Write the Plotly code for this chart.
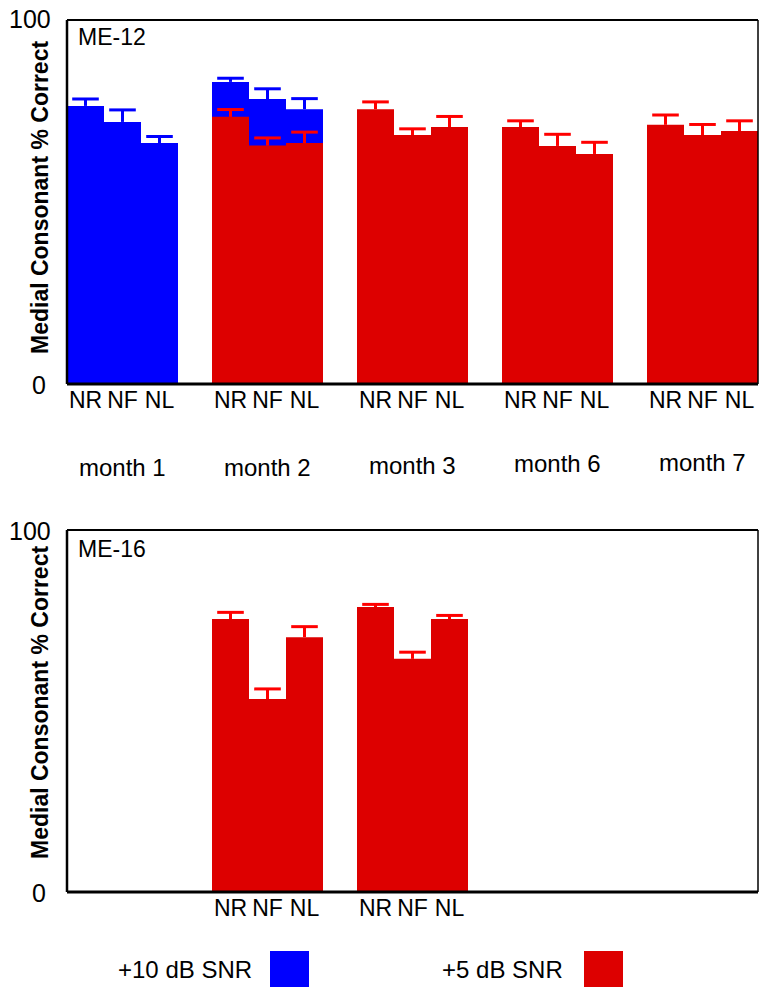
import plotly.graph_objects as go

# ---------------- data ----------------
months = ["month 1", "month 2", "month 3", "month 6", "month 7"]
conditions = ["NR", "NF", "NL"]

# ME-12, +10 dB SNR (months 1 and 2)
me12_snr10_months = [0, 1]
me12_snr10 = [[76.4, 72.0, 66.2], [83.0, 78.3, 75.5]]
me12_snr10_err = [[1.9, 3.3, 1.8], [1.0, 2.8, 2.9]]

# ME-12, +5 dB SNR (months 2, 3, 6, 7)
me12_snr5_months = [1, 2, 3, 4]
me12_snr5 = [[73.4, 65.5, 66.2], [75.5, 68.4, 70.6], [70.6, 65.4, 63.2], [71.2, 68.4, 69.5]]
me12_snr5_err = [[2.0, 2.1, 3.0], [2.0, 1.7, 2.9], [1.7, 3.2, 3.2], [2.7, 2.9, 2.8]]

# ME-16, +5 dB SNR (months 2, 3)
me16_snr5_months = [1, 2]
me16_snr5 = [[75.4, 53.3, 70.4], [78.7, 64.4, 75.4]]
me16_snr5_err = [[1.85, 2.8, 2.9], [0.75, 1.85, 1.0]]

# ---------------- layout helpers ----------------
W, H = 759, 987
GAP = 34 / 37.0
PERIOD = 3 + GAP
XMAX = 5 * 3 + 4 * GAP

def px(x):
    return x / W

def py(y):
    return 1 - y / H

def centers(month_idx):
    return [month_idx * PERIOD + k + 0.5 for k in range(3)]

def flat(month_list, values):
    xs, ys = [], []
    for m, vals in zip(month_list, values):
        xs += centers(m)
        ys += list(vals)
    return xs, ys

BLUE = "#0000FF"
RED_BAR = "#DD0000"
RED_ERR = "#FF0000"
FONT = "Liberation Sans, Arial, sans-serif"

fig = go.Figure()

def add_bars(month_list, values, errs, color, ecolor, xa, ya):
    xs, ys = flat(month_list, values)
    _, es = flat(month_list, errs)
    # bars with upper error stems (no crossbars)
    fig.add_trace(go.Bar(
        x=xs, y=ys, width=1.0, marker=dict(color=color, line=dict(width=0)),
        error_y=dict(type="data", array=es, arrayminus=[0] * len(es), symmetric=False,
                     color=ecolor, thickness=3, width=0),
        xaxis=xa, yaxis=ya, showlegend=False, hoverinfo="skip"))
    # caps at the top of each error bar
    fig.add_trace(go.Scatter(
        x=xs, y=[v + e for v, e in zip(ys, es)], mode="markers",
        marker=dict(symbol="line-ew", size=19, line=dict(color=ecolor, width=3)),
        xaxis=xa, yaxis=ya, showlegend=False, hoverinfo="skip"))

add_bars(me12_snr10_months, me12_snr10, me12_snr10_err, BLUE, BLUE, "x", "y")
add_bars(me12_snr5_months, me12_snr5, me12_snr5_err, RED_BAR, RED_ERR, "x", "y")
add_bars(me16_snr5_months, me16_snr5, me16_snr5_err, RED_BAR, RED_ERR, "x2", "y2")

top_ticks = []
for m in range(5):
    top_ticks += centers(m)
bot_ticks = []
for m in me16_snr5_months:
    bot_ticks += centers(m)

xdom = [px(67), px(758)]
top_dom = [py(384), py(20)]
bot_dom = [py(892), py(530)]

axis_common = dict(showgrid=False, zeroline=False, showline=False, ticks="",
                   tickfont=dict(family=FONT, size=23, color="black"))

fig.update_layout(
    width=W, height=H, margin=dict(l=0, r=0, t=0, b=0),
    paper_bgcolor="white", plot_bgcolor="white", barmode="overlay",
    xaxis=dict(domain=xdom, range=[0, XMAX], tickvals=top_ticks,
               ticktext=conditions * 5, anchor="y", **axis_common),
    yaxis=dict(domain=top_dom, range=[0, 100], showticklabels=False, anchor="x", **axis_common),
    xaxis2=dict(domain=xdom, range=[0, XMAX], tickvals=bot_ticks,
                ticktext=conditions * len(me16_snr5_months), anchor="y2", **axis_common),
    yaxis2=dict(domain=bot_dom, range=[0, 100], showticklabels=False, anchor="x2", **axis_common),
)

# frames
for xr, yr in [("x domain", "y domain"), ("x2 domain", "y2 domain")]:
    fig.add_shape(type="line", xref=xr, yref=yr, x0=0, x1=1, y0=0, y1=0, line=dict(color="black", width=3))
    fig.add_shape(type="line", xref=xr, yref=yr, x0=0, x1=1, y0=1, y1=1, line=dict(color="black", width=2))
    fig.add_shape(type="line", xref=xr, yref=yr, x0=0, x1=0, y0=0, y1=1, line=dict(color="black", width=2.5))
    fig.add_shape(type="line", xref=xr, yref=yr, x0=1, x1=1, y0=0, y1=1, line=dict(color="black", width=1.5))

def ann(text, x, y, size=24, xanchor="center", yanchor="middle", bold=False, angle=0):
    fig.add_annotation(text=("<b>%s</b>" % text) if bold else text, x=px(x), y=py(y),
                       xref="paper", yref="paper", showarrow=False, xanchor=xanchor,
                       yanchor=yanchor, textangle=angle,
                       font=dict(family=FONT, size=size, color="black"))

# y tick labels
ann("100", 53, 19, size=25, xanchor="right")
ann("0", 48, 385, size=25, xanchor="right")
ann("100", 53, 531, size=25, xanchor="right")
ann("0", 48, 893, size=25, xanchor="right")

# y titles
ann("Medial Consonant % Correct", 40, 198, size=23, bold=True, angle=-90)
ann("Medial Consonant % Correct", 40, 703, size=23, bold=True, angle=-90)

# panel labels
ann("ME-12", 76, 37, size=23, xanchor="left")
ann("ME-16", 76, 549, size=23, xanchor="left")

# month labels (top panel)
month_y = [467, 467, 465, 464, 462]
for m, (name, yy) in enumerate(zip(months, month_y)):
    cx = 67 + (m * PERIOD + 1.5) / XMAX * 691
    ann(name, cx, yy, size=24)

# legend
ann("+10 dB SNR", 185, 969, size=24)
ann("+5 dB SNR", 502, 969, size=24)
fig.add_shape(type="rect", xref="paper", yref="paper", x0=px(270), x1=px(309), y0=py(987), y1=py(951),
              fillcolor=BLUE, line=dict(width=0))
fig.add_shape(type="rect", xref="paper", yref="paper", x0=px(584), x1=px(623), y0=py(987), y1=py(951),
              fillcolor=RED_BAR, line=dict(width=0))

fig.write_html("out.html", config={"displayModeBar": False},
               post_script="document.body.style.margin='0';document.body.style.padding='0';")
